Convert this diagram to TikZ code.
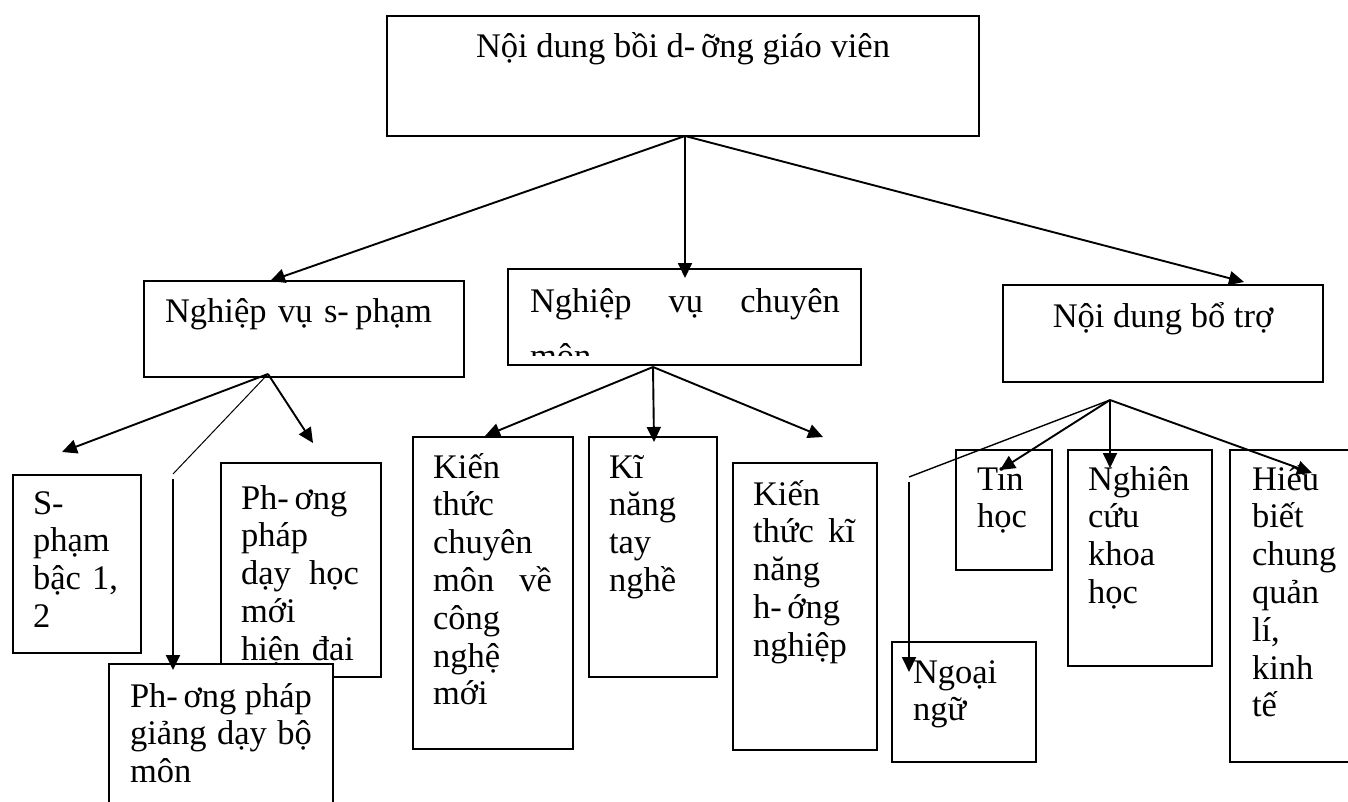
\documentclass[tikz,border=0pt]{standalone}
\usepackage{fontspec}
\setmainfont{Liberation Serif}
\usetikzlibrary{arrows.meta}
\newcommand\bodyfont{\fontsize{34.5}{37.8}\selectfont}
% a line stretched to a fixed width, with \hfill between its words
\newcommand\spread[2]{\leavevmode\hbox to #1{#2}}

\begin{document}
\begin{tikzpicture}[x=1pt,y=-1pt,
  box/.style={draw, line width=1.9pt, fill=white, anchor=north west,
              inner sep=0pt, outer sep=0pt},
  lbl/.style={anchor=base west, inner sep=0pt, outer sep=0pt,
              font=\bodyfont, text width=400pt, align=left},
  ctr/.style={anchor=base, inner sep=0pt, outer sep=0pt, font=\bodyfont},
  link/.style={line width=1.9pt, -{Triangle[length=15pt,width=14pt]}},
  fine/.style={line width=1pt},
  plain/.style={line width=1.4pt},
]
\useasboundingbox (0,0) rectangle (1348,802);
\clip (0,0) rectangle (1348,802);

% top level
\node[box, minimum width=592pt, minimum height=120pt] (top) at (387,16) {};
\node[ctr] (top-t) at (683,58) {Nội dung bồi d-\,ỡng giáo viên};

% second level
\node[box, minimum width=320pt, minimum height=96pt] (nvsp) at (144,281) {};
\node[lbl] (nvsp-t) at (165,322) {\spread{267pt}{Nghiệp vụ s-\hfill phạm}};

\node[box, minimum width=353pt, minimum height=96pt] (nvcm) at (508,269) {};
\node[lbl] (nvcm-t) at (530,312) {\spread{310pt}{Nghiệp\hfill vụ\hfill chuyên}};
\begin{scope}
  \clip (508,269) rectangle (861,355);
  \node[lbl] (nvcm-t2) at (530,367) {môn};
\end{scope}

\node[box, minimum width=320pt, minimum height=97pt] (ndbt) at (1003,285) {};
\node[ctr] (ndbt-t) at (1163,327) {Nội dung bổ trợ};

% children of "Nghiệp vụ sư phạm"
\node[box, minimum width=128pt, minimum height=178pt] (sp12) at (13,475) {};
\node[lbl] (sp12-t) at (33,514) {S-\\phạm\\\spread{85pt}{bậc\hfill 1,}\\2};

\node[box, minimum width=160pt, minimum height=214pt] (ppdh) at (221,463) {};
\node[lbl] (ppdh-t) at (241,509) {Ph-\,ơng\\pháp\\\spread{118pt}{dạy\hfill học}\\mới\\hiện đai};

\node[box, minimum width=224pt, minimum height=170pt] (ppgd) at (109,664) {};
\node[lbl] (ppgd-t) at (130,707) {\spread{182pt}{Ph-\,ơng\hfill pháp}\\\spread{182pt}{giảng\hfill dạy\hfill bộ}\\môn};

% children of "Nghiệp vụ chuyên môn"
\node[box, minimum width=160pt, minimum height=312pt] (ktcm) at (413,437) {};
\node[lbl] (ktcm-t) at (433,478) {Kiến\\thức\\chuyên\\\spread{119pt}{môn\hfill về}\\công\\nghệ\\mới};

\node[box, minimum width=128pt, minimum height=240pt] (kntn) at (589,437) {};
\node[lbl] (kntn-t) at (609,478) {Kĩ\\năng\\tay\\nghề};

\node[box, minimum width=144pt, minimum height=287pt] (ktkn) at (733,463) {};
\node[lbl] (ktkn-t) at (753,505) {Kiến\\\spread{102pt}{thức\hfill kĩ}\\năng\\h-\,ớng\\nghiệp};

% children of "Nội dung bổ trợ"
\node[box, minimum width=96pt, minimum height=120pt] (tin) at (956,450) {};
\node[lbl] (tin-t) at (977,490) {Tin\\học};

\node[box, minimum width=144pt, minimum height=216pt] (nckh) at (1068,450) {};
\node[lbl] (nckh-t) at (1088,490) {Nghiên\\cứu\\khoa\\học};

\node[box, minimum width=130pt, minimum height=312pt] (hbc) at (1230,450) {};
\node[lbl] (hbc-t) at (1252,490) {Hiểu\\biết\\chung\\quản\\lí,\\kinh\\tế};

\node[box, minimum width=144pt, minimum height=120pt] (ngn) at (892,642) {};
\node[lbl] (ngn-t) at (913,683) {Ngoại\\ngữ};

% branching points and arrow ends
\coordinate (j0) at (685,136);
\coordinate (j1) at (268,374);
\coordinate (j2) at (653,367);
\coordinate (j3) at (1110,400);

\coordinate (e-nvsp) at (270,281);
\coordinate (e-nvcm) at (685,278);
\coordinate (e-ndbt) at (1244,282);

\coordinate (e-sp12) at (62,452);
\coordinate (e-ppdh) at (313,443);
\coordinate (k-ppgd) at (173,474);
\coordinate (s-ppgd) at (173,479);
\coordinate (e-ppgd) at (173,670);

\coordinate (e-ktcm) at (485,436);
\coordinate (e-kntn) at (654,442);
\coordinate (e-ktkn) at (823,437);

\coordinate (k-ngn) at (909,477);
\coordinate (s-ngn) at (909,482);
\coordinate (e-ngn) at (909,672);
\coordinate (e-tin) at (1000,470);
\coordinate (e-nckh) at (1110,468);
\coordinate (e-hbc) at (1312,473);

% connectors
\draw[link] (j0) -- (e-nvsp);
\draw[link] (j0) -- (e-nvcm);
\draw[link] (j0) -- (e-ndbt);

\draw[link] (j1) -- (e-sp12);
\draw[link] (j1) -- (e-ppdh);
\draw[fine] (j1) -- (k-ppgd);
\draw[link] (s-ppgd) -- (e-ppgd);

\draw[link] (j2) -- (e-ktcm);
\draw[link] (j2) -- (e-kntn);
\draw[link] (j2) -- (e-ktkn);

\draw[plain] (j3) -- (k-ngn);
\draw[link] (s-ngn) -- (e-ngn);
\draw[link] (j3) -- (e-tin);
\draw[link] (j3) -- (e-nckh);
\draw[link] (j3) -- (e-hbc);
\end{tikzpicture}
\end{document}
